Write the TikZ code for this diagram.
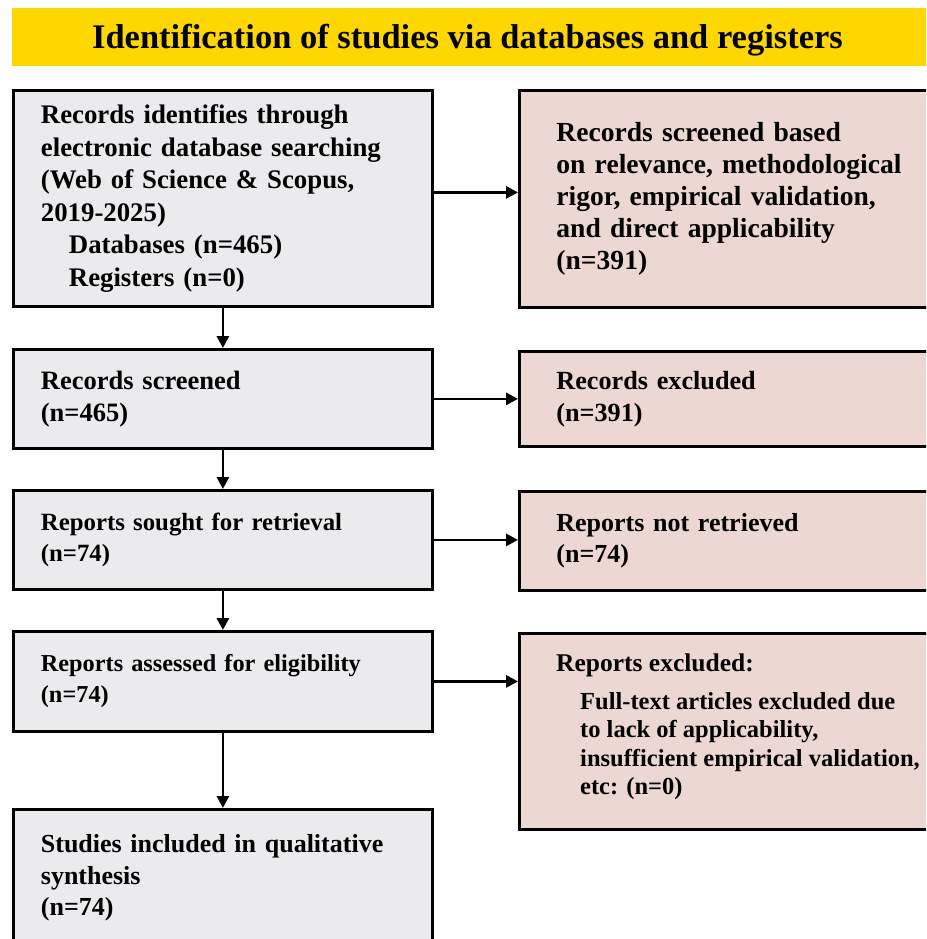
\documentclass[tikz,border=0pt]{standalone}
\usepackage{fontspec}
\setmainfont{Liberation Serif}
\usetikzlibrary{arrows.meta,calc}

\definecolor{bannerYellow}{RGB}{255,215,0}
\definecolor{leftFill}{RGB}{235,235,238}
\definecolor{rightFill}{RGB}{237,215,210}

\newcommand{\fsz}[2]{\fontsize{#1}{#2}\selectfont\bfseries}

\tikzset{
  x=1pt, y=-1pt,
  flowbox/.style={draw=black, line width=2.8pt, rectangle, align=left,
    inner ysep=0pt, anchor=north west},
  leftbox/.style={flowbox, fill=leftFill, inner xsep=27.5pt,
    text width=364pt, minimum width=419pt},
  rightbox/.style={flowbox, fill=rightFill, inner xsep=37pt,
    text width=356pt, minimum width=430pt},
  flowarrow/.style={line width=2.8pt, -{Triangle[length=12pt,width=12pt]}},
}

\begin{document}
\begin{tikzpicture}
\useasboundingbox (0,0) rectangle (926,939);
\fill[white] (0,0) rectangle (926,939);
\clip (0,0) rectangle (926,939);

% heading band
\node[fill=bannerYellow, minimum width=930pt, minimum height=58pt,
      inner sep=0pt, anchor=north west] (banner) at (12,8) {};
\node[font=\fsz{34.5}{40}, inner sep=0pt] (title) at (467.5,40)
  {Identification of studies via databases and registers};

% main column
\node[leftbox, minimum height=216pt, font=\fsz{26.8}{32.5}] (b1) at (12,89)
  {Records identifies through\\
   electronic database searching\\
   (Web of Science \& Scopus,\\
   2019-2025)\\
   \hspace*{28pt}Databases (n=465)\\
   \hspace*{28pt}Registers (n=0)};

\node[leftbox, minimum height=99pt, font=\fsz{26.5}{32}] (b2) at (12,348)
  {Records screened\\(n=465)};
\node[leftbox, minimum height=99pt, font=\fsz{24.8}{31}] (b3) at (12,489)
  {Reports sought for retrieval\\(n=74)};
\node[leftbox, minimum height=100pt, font=\fsz{24.3}{31}] (b4) at (12,630)
  {Reports assessed for eligibility\\(n=74)};
\node[leftbox, minimum height=137pt, font=\fsz{26}{31.5}] (b5) at (12,808)
  {Studies included in qualitative\\synthesis\\(n=74)};

% side column
\node[rightbox, minimum height=217pt, font=\fsz{27.6}{32}] (r1) at (518,89)
  {Records screened based\\
   on relevance, methodological\\
   rigor, empirical validation,\\
   and direct applicability\\
   (n=391)};
\node[rightbox, minimum height=95pt, font=\fsz{26.2}{32}] (r2) at (518,350)
  {Records excluded\\(n=391)};
\node[rightbox, minimum height=99pt, font=\fsz{26}{31}] (r3) at (518,490)
  {Reports not retrieved\\(n=74)};
\node[rightbox, minimum height=196pt] (r4) at (518,632) {};
\node[anchor=north west, inner sep=0pt, align=left, font=\fsz{24.5}{28.5}]
  (r4text) at ([xshift=38pt,yshift=-22pt]r4.north west)
  {{\fontsize{25.5}{28.5}\selectfont Reports excluded:}\\[9pt]
   \hspace*{24pt}Full-text articles excluded due\\
   \hspace*{24pt}to lack of applicability,\\
   \hspace*{24pt}insufficient empirical validation,\\
   \hspace*{24pt}etc: (n=0)};

% downward flow
\draw[flowarrow] (b1.south) -- (b2.north);
\draw[flowarrow] (b2.south) -- (b3.north);
\draw[flowarrow] (b3.south) -- (b4.north);
\draw[flowarrow] (b4.south) -- (b5.north);

% exclusions to the side
\coordinate (e1) at ([yshift=6pt]b1.east);
\draw[flowarrow] (e1) -- (r1.west |- e1);
\draw[flowarrow] (b2.east) -- (r2.west |- b2.east);
\draw[flowarrow] (b3.east) -- (r3.west |- b3.east);
\draw[flowarrow] (b4.east) -- (r4.west |- b4.east);
\end{tikzpicture}
\end{document}
